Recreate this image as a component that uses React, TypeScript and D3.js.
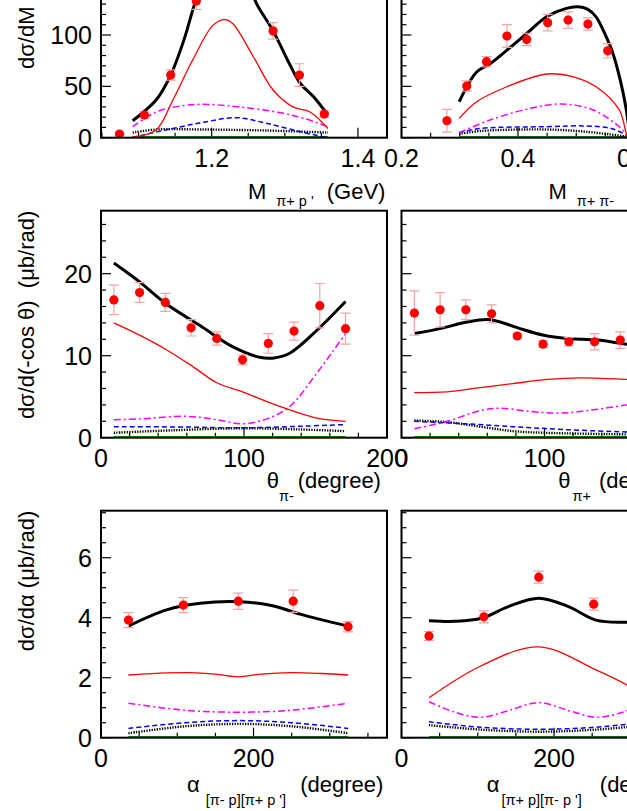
import React, { useRef, useEffect } from 'react';
import * as d3 from 'd3';

type Pt = [number, number];

// ---------- M(pi+ p') ----------
const mPipX = [1.074, 1.108, 1.144, 1.179, 1.214, 1.249, 1.284, 1.320, 1.354];
const mPipY = [3.6, 22, 61, 133, 178, 160, 104, 61, 23];
const mPipErr = [1, 3, 5, 8, 10, 10, 8, 11, 3];
const mPipTotal: Pt[] = [[1.092, 16.5], [1.124, 36.7], [1.144, 61], [1.162, 95], [1.177, 131], [1.195, 168], [1.215, 182], [1.235, 172], [1.25, 152], [1.261, 131], [1.284, 104], [1.307, 71], [1.321, 53], [1.339, 40], [1.359, 22]];
const mPipRed: Pt[] = [[1.092, 0.5], [1.124, 7.5], [1.147, 36.7], [1.174, 75.6], [1.202, 109.6], [1.218, 115], [1.229, 111], [1.257, 78.8], [1.284, 46.4], [1.311, 30], [1.334, 25.3], [1.359, 9]];
const mPipDashDot: Pt[] = [[1.092, 10.7], [1.124, 25], [1.15, 30], [1.184, 32.5], [1.238, 30], [1.298, 23.7], [1.33, 18], [1.359, 10.7]];
const mPipDashed: Pt[] = [[1.092, 0.3], [1.147, 9], [1.193, 15.6], [1.234, 19.5], [1.275, 14], [1.321, 5.8], [1.359, 0]];
const mPipDotted: Pt[] = [[1.092, 4.9], [1.124, 8], [1.184, 8], [1.275, 7], [1.359, 5]];

// ---------- M(pi+ pi-) ----------
const mPiPiX = [0.278, 0.312, 0.346, 0.381, 0.415, 0.451, 0.486, 0.520, 0.554];
const mPiPiY = [16.5, 50.3, 74, 99, 95.7, 112, 114.5, 110.6, 84.6];
const mPiPiErr = [11, 5, 5, 11, 6, 8, 8, 6, 7];
const mPiPiTotal: Pt[] = [[0.299, 35], [0.329, 64], [0.352, 72], [0.381, 85.3], [0.415, 101.5], [0.449, 117.7], [0.483, 125.9], [0.503, 127.4], [0.52, 125], [0.534, 117.7], [0.55, 100], [0.563, 82], [0.576, 55], [0.586, 27], [0.592, 0]];
const mPiPiRed: Pt[] = [[0.299, 18.8], [0.329, 35], [0.381, 49.6], [0.449, 62], [0.495, 59.3], [0.534, 49.6], [0.574, 27], [0.586, 4.3], [0.59, 0]];
const mPiPiDashDot: Pt[] = [[0.299, 4.9], [0.352, 17.2], [0.421, 28.6], [0.475, 32.8], [0.529, 27], [0.574, 10.7], [0.588, 2]];
const mPiPiDashed: Pt[] = [[0.299, 4.9], [0.335, 9], [0.449, 10.7], [0.517, 11.4], [0.56, 9], [0.588, 2]];
const mPiPiDotted: Pt[] = [[0.299, 3.6], [0.335, 6.5], [0.449, 8], [0.517, 5.8], [0.588, 1]];

// ---------- theta(pi-) ----------
const thetaX = [9, 27, 45, 63, 81, 99, 117, 135, 153, 171];
const thMinusY = [16.8, 17.7, 16.5, 13.4, 12.1, 9.5, 11.5, 13, 16.1, 13.3];
const thMinusErr = [1.8, 1.2, 1.1, 1, 0.8, 0.6, 1.2, 1.1, 2.7, 1.9];
const thMinusTotal: Pt[] = [[9, 21.3], [27, 19], [45, 16.4], [69, 13.7], [92, 11.1], [111, 9.8], [120, 9.7], [132, 10.3], [151, 13.1], [171, 16.6]];
const thMinusRed: Pt[] = [[9, 14], [27, 12.5], [46, 10.7], [64, 8.7], [81, 6.7], [99, 5.6], [116, 4.4], [132, 3.4], [151, 2.4], [171, 2]];
const thMinusDashDot: Pt[] = [[9, 2.2], [27, 2.3], [60, 2.6], [81, 2.2], [99, 1.7], [116, 2.3], [132, 3.8], [151, 7.9], [162, 10.5], [171, 12.7]];
const thMinusDashed: Pt[] = [[9, 1.35], [60, 1.3], [99, 1.2], [140, 1.4], [171, 1.6]];
const thMinusDotted: Pt[] = [[9, 0.6], [50, 0.9], [99, 1.15], [140, 1.0], [171, 0.8]];

// ---------- theta(pi+) ----------
const thPlusY = [15.2, 15.6, 15.6, 15.1, 12.4, 11.4, 11.7, 11.7, 11.9, 12];
const thPlusErr = [2.7, 2.1, 1.2, 1.1, 0.3, 0.4, 0.5, 1, 1, 1];
const thPlusTotal: Pt[] = [[9, 12.7], [27, 13.3], [46, 14.1], [60, 14.4], [69, 14.1], [83, 13.3], [99.5, 12.5], [116, 12.1], [137, 11.9], [158, 11.4], [171, 11.2]];
const thPlusRed: Pt[] = [[9, 5.5], [32, 5.6], [55, 6.1], [78, 6.6], [102, 7.1], [125, 7.3], [158, 7.1], [171, 7]];
const thPlusDashDot: Pt[] = [[9, 1.1], [32, 2.0], [55, 3.3], [69, 3.6], [90, 3.2], [111, 3.0], [134, 3.4], [158, 4.0], [171, 4.2]];
const thPlusDashed: Pt[] = [[9, 2.0], [44, 1.7], [78, 1.35], [113, 1.0], [158, 0.7], [171, 0.65]];
const thPlusDotted: Pt[] = [[9, 2.1], [32, 1.9], [55, 1.35], [78, 0.8], [100, 0.6], [158, 0.4], [171, 0.35]];

// ---------- alpha [pi- p][pi+ p'] ----------
const alphaX = [36, 108, 180, 252, 324];
const alpha1Y = [3.92, 4.42, 4.55, 4.55, 3.7];
const alpha1Err = [0.25, 0.25, 0.27, 0.37, 0.17];
const alpha1Total: Pt[] = [[36, 3.72], [86, 4.26], [130, 4.48], [182, 4.53], [225, 4.4], [261, 4.12], [324, 3.72]];
const alpha1Red: Pt[] = [[36, 2.09], [86, 2.16], [115, 2.17], [150, 2.12], [180, 2.03], [210, 2.12], [250, 2.17], [290, 2.14], [324, 2.09]];
const alpha1DashDot: Pt[] = [[36, 1.15], [86, 0.98], [130, 0.88], [180, 0.85], [230, 0.88], [270, 0.97], [324, 1.15]];
const alpha1Dashed: Pt[] = [[36, 0.31], [110, 0.5], [180, 0.57], [250, 0.5], [324, 0.31]];
const alpha1Dotted: Pt[] = [[36, 0.15], [110, 0.38], [180, 0.46], [250, 0.38], [324, 0.15]];

// ---------- alpha [pi+ p][pi- p'] ----------
const alpha2Y = [3.39, 4.03, 5.35, 4.45, 3.9];
const alpha2Err = [0.15, 0.2, 0.2, 0.2, 0.2];
const alpha2Total: Pt[] = [[36, 3.9], [70, 3.88], [105, 3.98], [140, 4.37], [180, 4.65], [219, 4.37], [255, 3.92], [290, 3.85], [324, 3.9]];
const alpha2Red: Pt[] = [[36, 1.33], [104, 2.39], [180, 3.03], [255, 2.26], [300, 1.7], [324, 1.33]];
const alpha2DashDot: Pt[] = [[36, 1.2], [70, 0.85], [104, 0.68], [140, 0.9], [180, 1.17], [220, 0.9], [255, 0.68], [290, 0.85], [324, 1.2]];
const alpha2Dashed: Pt[] = [[36, 0.53], [104, 0.35], [180, 0.28], [255, 0.35], [324, 0.53]];
const alpha2Dotted: Pt[] = [[36, 0.42], [104, 0.27], [180, 0.2], [255, 0.27], [324, 0.42]];

const yTitles = ['dσ/dM (μb/GeV)', 'dσ/d(-cos θ)  (μb/rad)', 'dσ/dα (μb/rad)'];

const PANEL_W = 286;
const PANEL_H = 227;
const COL_X = [101, 401.5];
const ROW_BOTTOM = [137.7, 437.7, 737.7];
const FONT = "'Liberation Sans', Arial, Helvetica, sans-serif";

const panels = [
  { col: 0, row: 0, xDomain: [1.0487, 1.4397], yMax: 221, xMajor: 0.2, xMinor: 0.05, yMajor: 50, yMinor: 10, fmt: '.1f',
    px: mPipX, py: mPipY, pe: mPipErr, total: mPipTotal, red: mPipRed, dashDot: mPipDashDot, dashed: mPipDashed, dotted: mPipDotted,
    title: { x: 248, base: 198.5, subDy: 7, parts: ['M', 'π+ p \'', '(GeV)'], gaps: [10, 13] } },
  { col: 1, row: 0, xDomain: [0.2, 0.691], yMax: 221, xMajor: 0.2, xMinor: 0.05, yMajor: 50, yMinor: 10, fmt: '.1f',
    px: mPiPiX, py: mPiPiY, pe: mPiPiErr, total: mPiPiTotal, red: mPiPiRed, dashDot: mPiPiDashDot, dashed: mPiPiDashed, dotted: mPiPiDotted,
    title: { x: 548.5, base: 198.5, subDy: 7, parts: ['M', 'π+ π-', '(GeV)'], gaps: [10, 13] } },
  { col: 0, row: 1, xDomain: [0, 200], yMax: 27.68, xMajor: 100, xMinor: 20, yMajor: 10, yMinor: 2, fmt: 'd',
    px: thetaX, py: thMinusY, pe: thMinusErr, total: thMinusTotal, red: thMinusRed, dashDot: thMinusDashDot, dashed: thMinusDashed, dotted: thMinusDotted,
    title: { x: 266.7, base: 488, subDy: 13, parts: ['θ', 'π-', '(degree)'], gaps: [0, 4] } },
  { col: 1, row: 1, xDomain: [0, 200], yMax: 27.68, xMajor: 100, xMinor: 20, yMajor: 10, yMinor: 2, fmt: 'd',
    px: thetaX, py: thPlusY, pe: thPlusErr, total: thPlusTotal, red: thPlusRed, dashDot: thPlusDashDot, dashed: thPlusDashed, dotted: thPlusDotted,
    title: { x: 558.3, base: 488, subDy: 13, parts: ['θ', 'π+', '(degree)'], gaps: [2, 8] } },
  { col: 0, row: 2, xDomain: [0, 375], yMax: 7.567, xMajor: 200, xMinor: 50, yMajor: 2, yMinor: 0.5, fmt: 'd',
    px: alphaX, py: alpha1Y, pe: alpha1Err, total: alpha1Total, red: alpha1Red, dashDot: alpha1DashDot, dashed: alpha1Dashed, dotted: alpha1Dotted,
    title: { x: 187, base: 792, subDy: 13, parts: ['α', '[π- p][π+ p \']', '(degree)'], gaps: [6, 14] } },
  { col: 1, row: 2, xDomain: [0, 375], yMax: 7.567, xMajor: 200, xMinor: 50, yMajor: 2, yMinor: 0.5, fmt: 'd',
    px: alphaX, py: alpha2Y, pe: alpha2Err, total: alpha2Total, red: alpha2Red, dashDot: alpha2DashDot, dashed: alpha2Dashed, dotted: alpha2Dotted,
    title: { x: 486.7, base: 792, subDy: 13, parts: ['α', '[π+ p][π- p \']', '(degree)'], gaps: [2, 18] } },
];

const stepTicks = (lo: number, hi: number, step: number) => {
  const out: number[] = [];
  for (let i = Math.ceil(lo / step - 1e-6); i * step <= hi + 1e-6; i++) out.push(+(i * step).toFixed(6));
  return out;
};

const App = () => {
  const ref = useRef<SVGSVGElement>(null);
  useEffect(() => {
    if (!ref.current) return;
    const svg = d3.select(ref.current);
    svg.selectAll('*').remove();

    panels.forEach((p, i) => {
      const left = COL_X[p.col];
      const bottom = ROW_BOTTOM[p.row];
      const top = bottom - PANEL_H;
      const x = d3.scaleLinear().domain(p.xDomain).range([left, left + PANEL_W]);
      const y = d3.scaleLinear().domain([0, p.yMax]).range([bottom, top]);
      const g = svg.append('g');

      const clipId = `clip${i}`;
      svg.append('clipPath').attr('id', clipId).append('rect')
        .attr('x', left).attr('y', top).attr('width', PANEL_W).attr('height', PANEL_H);

      // ticks point inward, ROOT style
      const [x0, x1] = p.xDomain;
      stepTicks(x0, x1, p.xMinor).forEach(t => {
        const major = Math.abs(t / p.xMajor - Math.round(t / p.xMajor)) < 1e-4;
        g.append('line').attr('x1', x(t)).attr('x2', x(t)).attr('y1', bottom).attr('y2', bottom - (major ? 10 : 5))
          .attr('stroke', 'black').attr('stroke-width', 1.2);
        if (major) {
          g.append('text').attr('x', x(t)).attr('y', bottom + 29).attr('text-anchor', 'middle')
            .attr('font-family', FONT).attr('font-size', 25).text(d3.format(p.fmt)(t));
        }
      });
      stepTicks(0, p.yMax, p.yMinor).forEach(t => {
        const major = Math.abs(t / p.yMajor - Math.round(t / p.yMajor)) < 1e-4;
        g.append('line').attr('x1', left).attr('x2', left + (major ? 10 : 5)).attr('y1', y(t)).attr('y2', y(t))
          .attr('stroke', 'black').attr('stroke-width', 1.2);
        if (major && p.col === 0) {
          g.append('text').attr('x', left - 9).attr('y', y(t)).attr('dy', '0.36em').attr('text-anchor', 'end')
            .attr('font-family', FONT).attr('font-size', 25).text(d3.format('d')(t));
        }
      });

      const plot = g.append('g').attr('clip-path', `url(#${clipId})`);
      const line = d3.line<Pt>().x(d => x(d[0])).y(d => y(d[1])).curve(d3.curveCatmullRom.alpha(0.5));

      const xs = p.total.map(d => d[0]);
      const green: Pt[] = [[d3.min(xs)!, 0], [d3.max(xs)!, 0]];
      const styles: [Pt[], string, number, string | null][] = [
        [green, '#00a000', 3.6, null],
        [p.dotted, 'black', 2.4, '1.3,1.3'],
        [p.dashed, '#0000ff', 1.5, '5,3'],
        [p.dashDot, '#ff00ff', 1.5, '7,3,2,3'],
        [p.red, '#ff0000', 1.3, null],
        [p.total, 'black', 3, null],
      ];
      styles.forEach(([data, color, w, dash]) => {
        plot.append('path').attr('d', line(data)).attr('fill', 'none').attr('stroke', color)
          .attr('stroke-width', w).attr('stroke-dasharray', dash);
      });

      // data points with error bars
      p.px.forEach((xv, k) => {
        const cx = x(xv);
        const yv = p.py[k];
        const e = p.pe[k];
        const eb = plot.append('g').attr('stroke', '#f5a3a3').attr('stroke-width', 1.2);
        eb.append('line').attr('x1', cx).attr('x2', cx).attr('y1', y(yv - e)).attr('y2', y(yv + e));
        eb.append('line').attr('x1', cx - 5).attr('x2', cx + 5).attr('y1', y(yv - e)).attr('y2', y(yv - e));
        eb.append('line').attr('x1', cx - 5).attr('x2', cx + 5).attr('y1', y(yv + e)).attr('y2', y(yv + e));
        plot.append('circle').attr('cx', cx).attr('cy', y(yv)).attr('r', 4.6).attr('fill', '#ff0000');
      });

      g.append('rect').attr('x', left).attr('y', top).attr('width', PANEL_W).attr('height', PANEL_H)
        .attr('fill', 'none').attr('stroke', 'black').attr('stroke-width', 2);

      // x title with subscript
      const tt = p.title;
      const txt = g.append('text').attr('x', tt.x).attr('y', tt.base).attr('font-family', FONT).attr('font-size', 22);
      txt.append('tspan').text(tt.parts[0]);
      txt.append('tspan').attr('dx', tt.gaps[0]).attr('dy', tt.subDy).attr('font-size', 14.5).text(tt.parts[1]);
      txt.append('tspan').attr('dx', tt.gaps[1]).attr('dy', -tt.subDy).text(tt.parts[2]);

      // y title
      if (p.col === 0) {
        g.append('text').attr('transform', `translate(34,${top}) rotate(-90)`).attr('text-anchor', 'end')
          .attr('font-family', FONT).attr('font-size', 22).attr('xml:space', 'preserve').text(yTitles[p.row]);
      }
    });
  }, []);

  return <svg ref={ref} width={627} height={811} style={{ position: 'absolute', left: 0, top: 0, background: 'white' }} />;
};

export default App;
